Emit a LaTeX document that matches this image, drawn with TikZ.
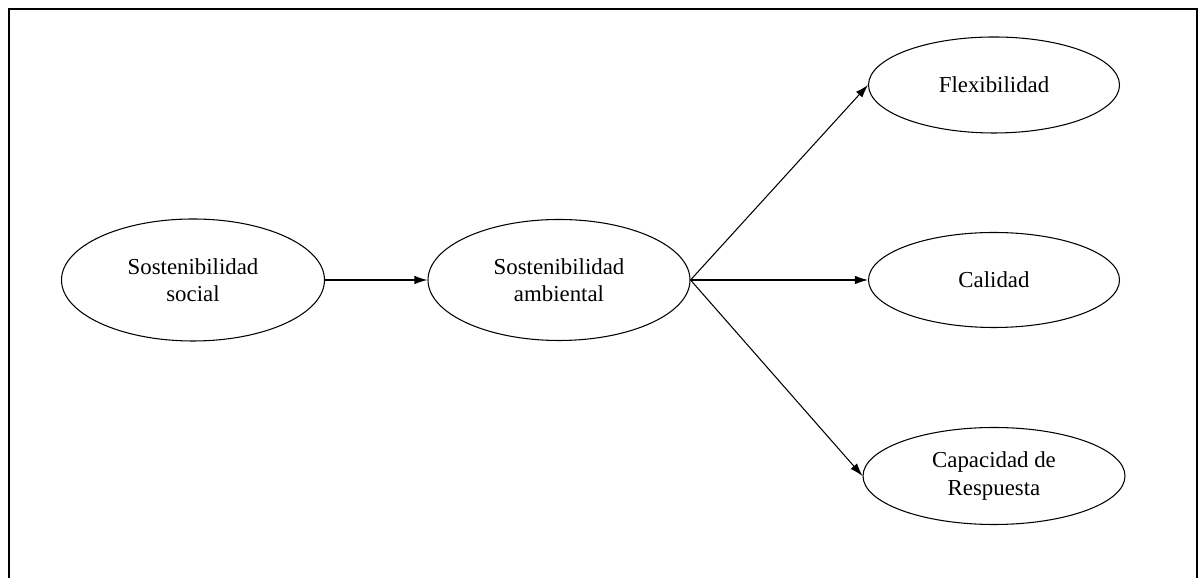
\documentclass[tikz,border=0pt]{standalone}
\usepackage{fontspec}
\setmainfont{Liberation Serif}
\usetikzlibrary{shapes.geometric,arrows.meta}
\tikzset{
  blob/.style={draw, ellipse, line width=0.6pt, inner sep=0pt, align=center,
    font=\fontsize{13}{15.5}\selectfont},
  link/.style={-{Latex[length=2.6mm,width=1.7mm]}, line width=0.6pt}
}
\begin{document}
\begin{tikzpicture}
     \useasboundingbox (0,0) rectangle (24,11.56);
     \draw[line width=1.3pt] (0.18,-0.1) -- (0.18,11.38) -- (23.94,11.38) -- (23.94,-0.1);

     \node[blob, minimum width=5.26cm, minimum height=2.44cm] (social) at (3.86,5.96) {Sostenibilidad\\social};
     \node[blob, minimum width=5.24cm, minimum height=2.42cm] (ambiental) at (11.18,5.96) {Sostenibilidad\\ambiental};

     \node[blob, minimum width=5.02cm, minimum height=1.92cm] (flex) at (19.88,9.86) {Flexibilidad};
     \node[blob, minimum width=5.02cm, minimum height=1.90cm] (calidad) at (19.88,5.96) {Calidad};
     \node[blob, minimum width=5.24cm, minimum height=1.94cm] (respuesta) at (19.88,2.04) {Capacidad de\\Respuesta};

     \draw[link] (social) -- (ambiental);
     \draw[link] (ambiental.east) -- (flex.west);
     \draw[link] (ambiental.east) -- (calidad.west);
     \draw[link] (ambiental.east) -- (respuesta.west);
    \end{tikzpicture}
\end{document}
